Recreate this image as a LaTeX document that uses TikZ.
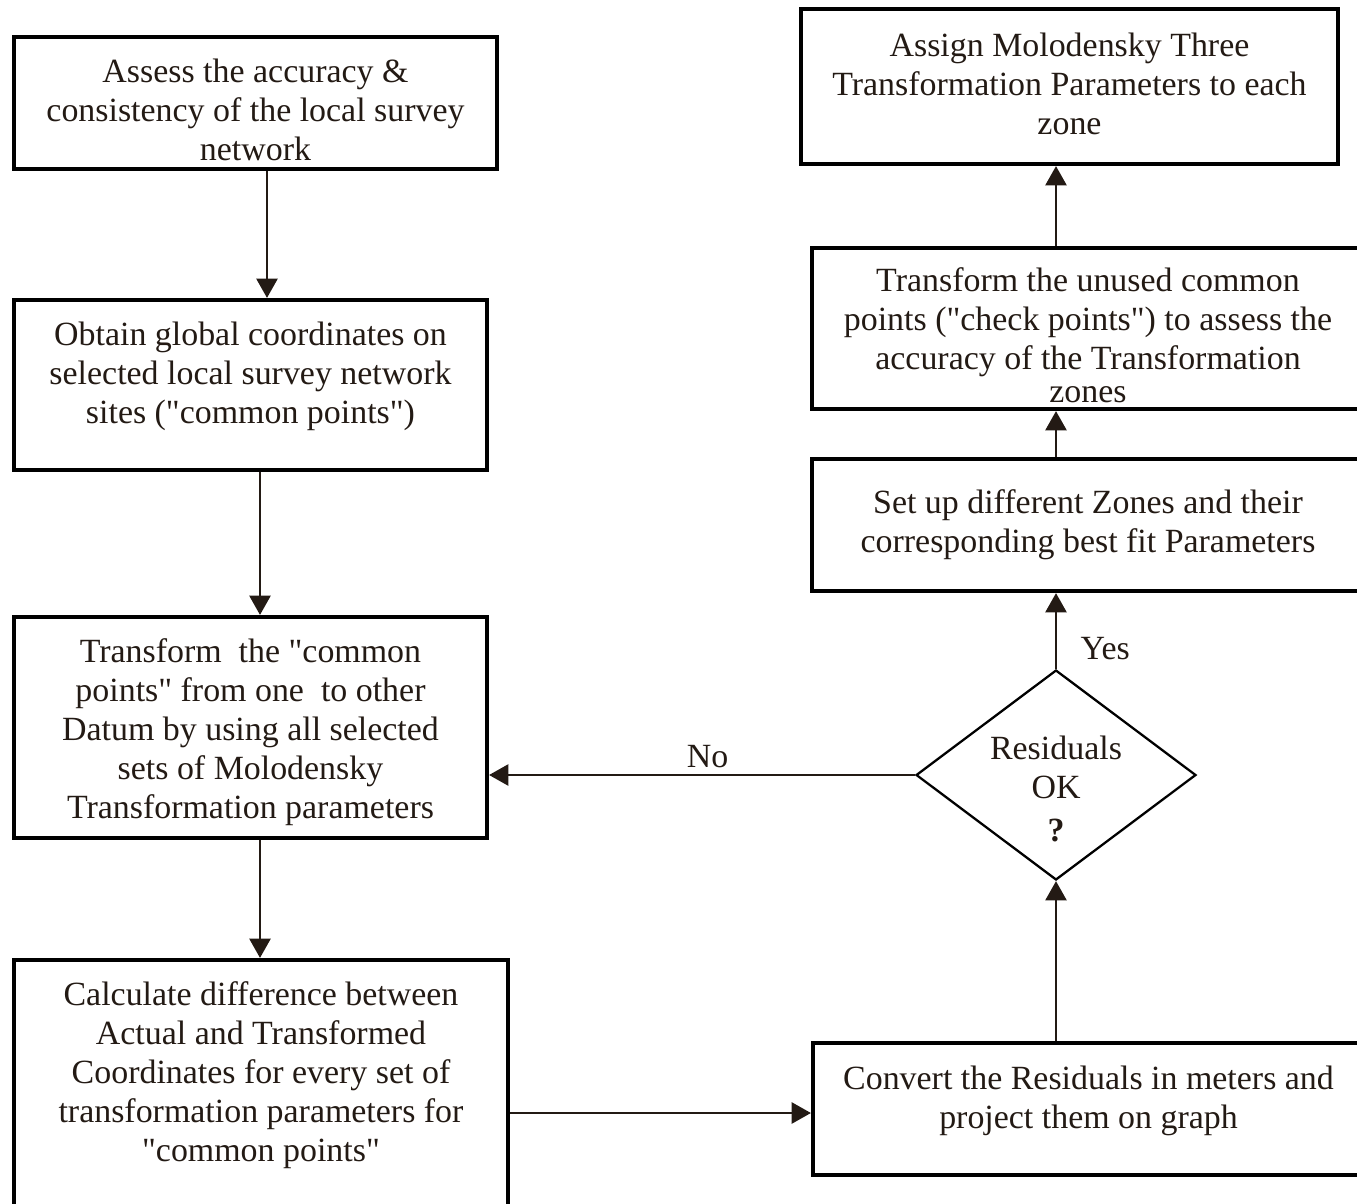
\documentclass[tikz,border=0pt]{standalone}
\usepackage{fontspec}
\setmainfont{Liberation Serif}[Ligatures=TeXOff]
\usetikzlibrary{arrows.meta, positioning, shapes.geometric}
\definecolor{kink}{HTML}{231A14}
\newcommand{\padtop}[1]{\rule{0pt}{#1}}
\newcommand{\padbot}[1]{\rule[-#1]{0pt}{0pt}}

\begin{document}
\begin{tikzpicture}[x=0.02cm, y=-0.02cm,
  box/.style={draw=black, line width=2.4pt, align=center, text=kink,
    font=\fontsize{19.3}{22.2}\selectfont, inner sep=0pt},
  decision/.style={diamond, draw=black, line width=1.3pt, inner sep=0pt,
    minimum width=5.6cm, minimum height=4.2cm},
  arr/.style={draw=kink, line width=1.4pt, -{Triangle[length=11pt, width=12pt]}},
  lbl/.style={text=kink, font=\fontsize{19.3}{22.2}\selectfont}]
\useasboundingbox (0,0) rectangle (1357,1204);
\clip (0,0) rectangle (1357,1204);
\fill[white] (0,0) rectangle (1357,1204);
% left column
\node[box, minimum width=9.66cm, minimum height=2.64cm] (assess) at (255.5,103)
  {\padtop{21pt}Assess the accuracy \&\\consistency of the local survey\\network};
\node[box, minimum width=9.46cm, minimum height=3.4cm] (obtain) at (250.5,385)
  {Obtain global coordinates on\\selected local survey network\\sites ("common points")\padbot{14pt}};
\node[box, minimum width=9.46cm, minimum height=4.42cm] (transform) at (250.5,727.5)
  {\padtop{18.6pt}Transform\ \ the "common\\points" from one\ \ to other\\Datum by using all selected\\sets of Molodensky\\Transformation parameters};
\node[box, minimum width=9.88cm, minimum height=5cm] (calc) at (261,1085)
  {Calculate difference between\\Actual and Transformed\\Coordinates for every set of\\transformation parameters for\\"common points"\padbot{15.5pt}};
% right column
\node[box, minimum width=11.02cm, minimum height=2.64cm] (convert) at (1088.5,1109)
  {Convert the Residuals in meters and\\project them on graph\padbot{13pt}};
\node[decision] (check) at (1056,775) {};
\node[lbl, align=center] (checktxt) at (1056,789) {Residuals\\OK\\[2pt]{\bfseries ?}};
\node[box, minimum width=11.04cm, minimum height=2.64cm] (setup) at (1088,525)
  {Set up different Zones and their\\corresponding best fit Parameters};
\node[box, minimum width=11.04cm, minimum height=3.22cm] (unused) at (1088,328.5)
  {\padtop{21pt}Transform the unused common\\points ("check points") to assess the\\accuracy of the Transformation\\[-3.5pt]zones};
\node[box, minimum width=10.74cm, minimum height=3.1cm] (assign) at (1069.5,86.5)
  {Assign Molodensky Three\\Transformation Parameters to each\\zone\padbot{3.4pt}};
% connectors
\coordinate (colA) at (267,0);
\coordinate (colB) at (260,0);
\draw[arr] (assess.south -| colA) -- (obtain.north -| colA);
\draw[arr] (obtain.south -| colB) -- (transform.north -| colB);
\draw[arr] (transform.south -| colB) -- (calc.north -| colB);
\draw[arr] (calc.east |- 0,1113) -- (convert.west |- 0,1113);
\draw[arr] (convert.north -| check) -- (check.south);
\draw[arr] (check.north) -- (setup.south -| check)
  node[lbl, pos=0.27, right=0.35cm] (yes) {Yes};
\draw[arr] (setup.north -| check) -- (unused.south -| check);
\draw[arr] (unused.north -| check) -- (assign.south -| check);
\draw[arr] (check.west) -- (check.west -| transform.east)
  node[lbl, pos=0.487, above=0cm] (no) {No};
\end{tikzpicture}
\end{document}
